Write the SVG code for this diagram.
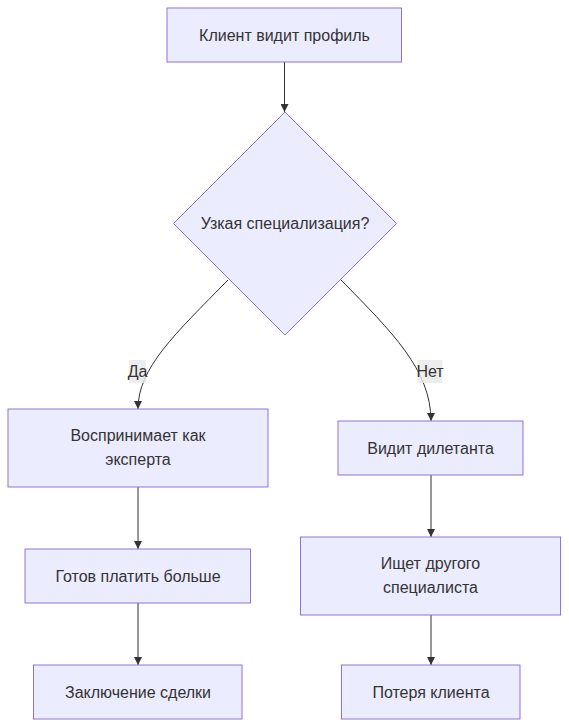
<svg xmlns="http://www.w3.org/2000/svg" width="569" height="727" viewBox="0 0 569 727">
<defs>
<style>
.node rect,.node polygon{fill:#ECECFF;stroke:#9370DB;stroke-width:1px;}
.lbl{font-family:"Liberation Sans",Arial,sans-serif;font-size:16px;fill:#333;text-anchor:middle;dominant-baseline:central;}
.edge{fill:none;stroke:#333;stroke-width:1px;}
.elbg{fill:#e8e8e8;opacity:0.8;}
</style>
<marker id="arrow" viewBox="0 0 10 10" refX="10" refY="5" markerWidth="8" markerHeight="8" markerUnits="userSpaceOnUse" orient="auto">
<path d="M0,0 L10,5 L0,10 z" fill="#333"/>
</marker>
</defs>
<rect width="569" height="727" fill="#fff"/>
<g id="connectors">
<path class="edge" d="M284.5,62 L284.5,112" marker-end="url(#arrow)"/>
<path class="edge" d="M228,280 C175,334 138,368 138,409" marker-end="url(#arrow)"/>
<path class="edge" d="M341,280 C392,332 431,370 431,421" marker-end="url(#arrow)"/>
<path class="edge" d="M138,487 L138,549" marker-end="url(#arrow)"/>
<path class="edge" d="M138,603 L138,665" marker-end="url(#arrow)"/>
<path class="edge" d="M431,475 L431,537" marker-end="url(#arrow)"/>
<path class="edge" d="M431,615 L431,665" marker-end="url(#arrow)"/>
<g id="label-yes">
<rect class="elbg" x="129" y="360" width="17" height="23"/>
<text class="lbl" x="137.5" y="371.5">Да</text>
</g>
<g id="label-no">
<rect class="elbg" x="417.5" y="360" width="25" height="23"/>
<text class="lbl" x="430" y="371.5">Нет</text>
</g>
</g>
<g id="n1" class="node">
<rect x="167" y="8" width="234.5" height="54"/>
<text class="lbl" x="284.5" y="35">Клиент видит профиль</text>
</g>
<g id="n2" class="node">
<polygon points="285,112 396.5,223.5 285,335 173.5,223.5"/>
<text class="lbl" x="285" y="223.5">Узкая специализация?</text>
</g>
<g id="n3" class="node">
<rect x="8" y="409" width="260" height="78"/>
<text class="lbl" x="138" y="435.5">Воспринимает как</text>
<text class="lbl" x="138" y="459.5">эксперта</text>
</g>
<g id="n4" class="node">
<rect x="338" y="421" width="185" height="54"/>
<text class="lbl" x="430.5" y="448">Видит дилетанта</text>
</g>
<g id="n5" class="node">
<rect x="25" y="549" width="225.5" height="54"/>
<text class="lbl" x="138" y="576">Готов платить больше</text>
</g>
<g id="n6" class="node">
<rect x="300.5" y="537" width="260" height="78"/>
<text class="lbl" x="430.5" y="563.5">Ищет другого</text>
<text class="lbl" x="430.5" y="587.5">специалиста</text>
</g>
<g id="n7" class="node">
<rect x="33.5" y="665" width="208.5" height="54"/>
<text class="lbl" x="138" y="692">Заключение сделки</text>
</g>
<g id="n8" class="node">
<rect x="341.5" y="665" width="178.5" height="54"/>
<text class="lbl" x="431" y="692">Потеря клиента</text>
</g>
</svg>
